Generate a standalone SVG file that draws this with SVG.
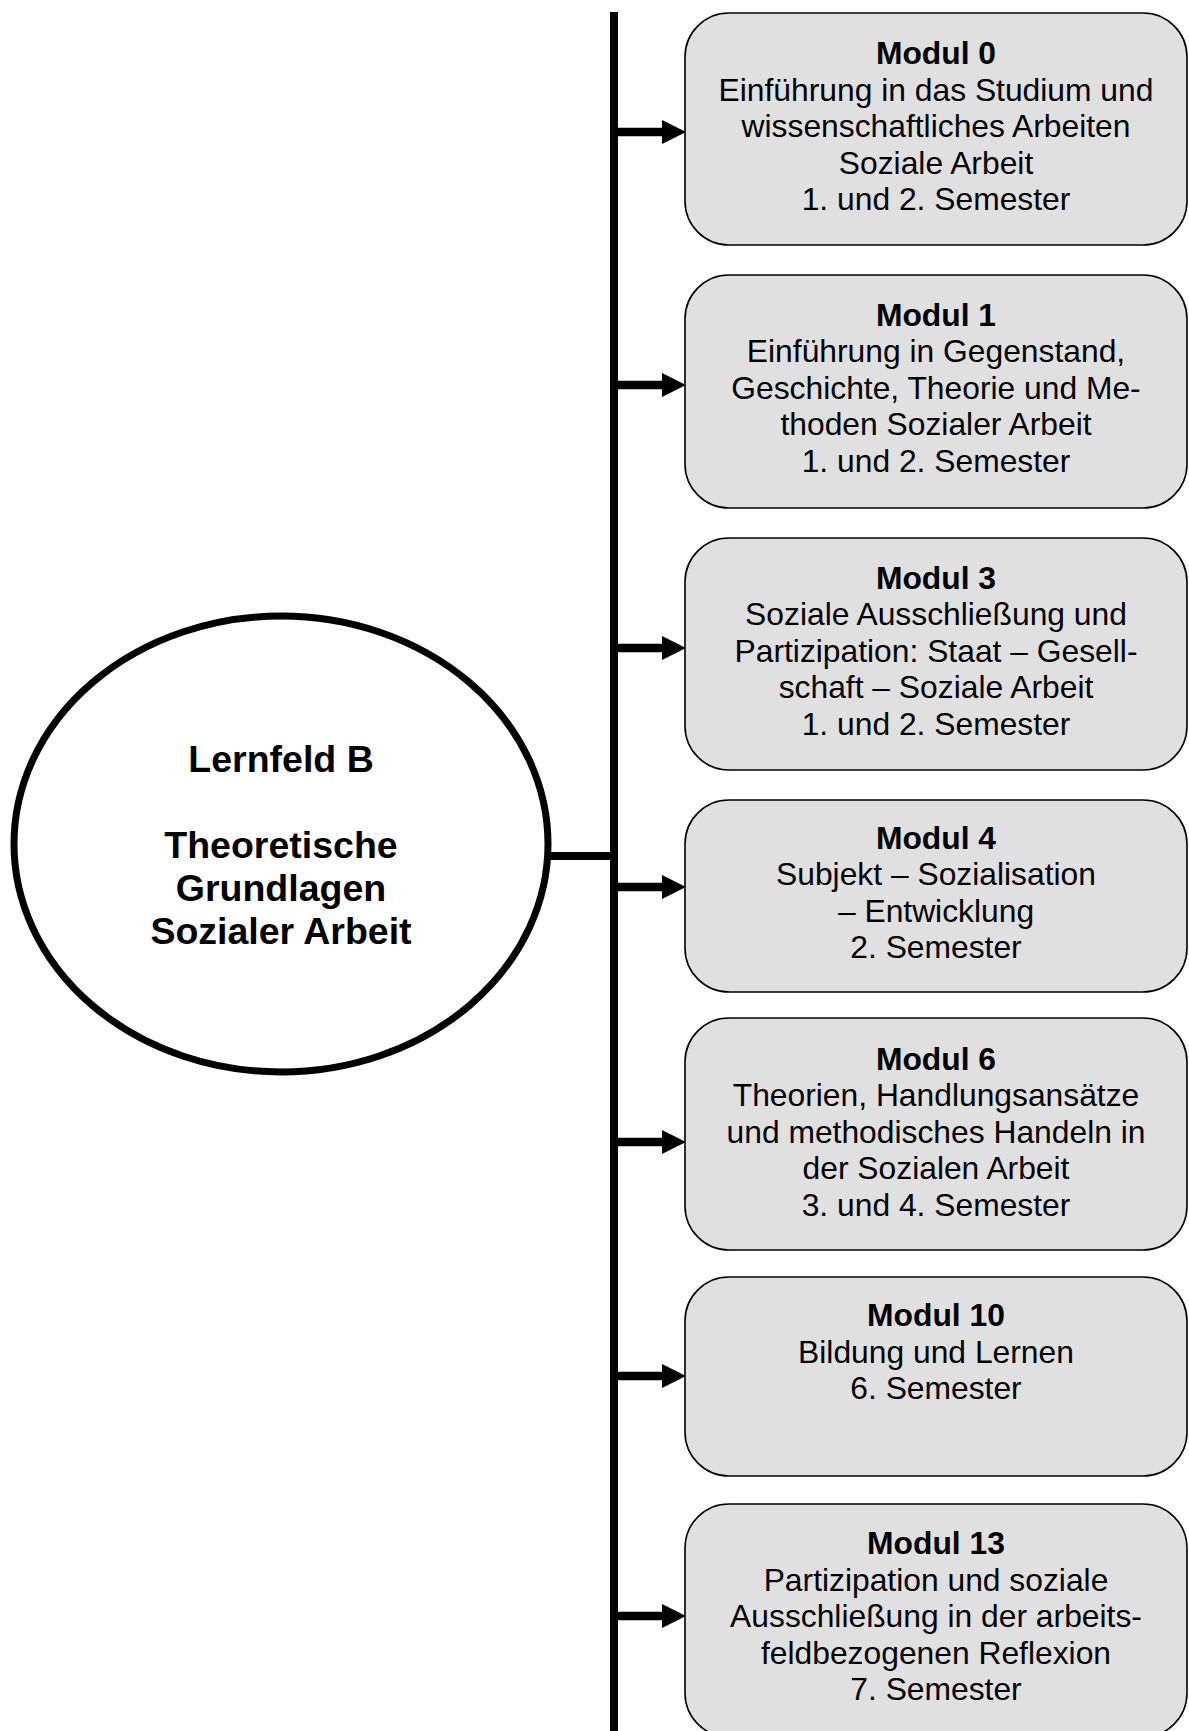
<svg xmlns="http://www.w3.org/2000/svg" width="1189" height="1731" viewBox="0 0 1189 1731">
<style>
.box{fill:#e0e0e0;stroke:#000;stroke-width:1.6}
.t{font-family:"Liberation Sans",Arial,sans-serif;font-size:31.8px;fill:#000;text-anchor:middle}
.b{font-weight:bold}
.et{font-family:"Liberation Sans",Arial,sans-serif;font-size:37.5px;font-weight:bold;fill:#000;text-anchor:middle}
.con{stroke:#000;stroke-width:8;fill:none}
.arr{stroke:#000;stroke-width:8.5;fill:none;marker-end:url(#ah)}
</style>
<defs>
<marker id="ah" markerUnits="userSpaceOnUse" markerWidth="24" markerHeight="24" refX="4" refY="12" orient="auto">
<path d="M0,0 L24,12 L0,24 Z" fill="#000"/>
</marker>
</defs>
<rect width="1189" height="1731" fill="#fff"/>
<g id="connectors">
<line class="con" x1="614" y1="12" x2="614" y2="1731"/>
<line class="con" x1="546" y1="856" x2="614" y2="856"/>
<line class="arr" x1="614" y1="132" x2="666" y2="132"/>
<line class="arr" x1="614" y1="385" x2="666" y2="385"/>
<line class="arr" x1="614" y1="648" x2="666" y2="648"/>
<line class="arr" x1="614" y1="887" x2="666" y2="887"/>
<line class="arr" x1="614" y1="1142" x2="666" y2="1142"/>
<line class="arr" x1="614" y1="1376" x2="666" y2="1376"/>
<line class="arr" x1="614" y1="1616" x2="666" y2="1616"/>
</g>
<g id="lernfeld">
<ellipse cx="281" cy="844" rx="267" ry="228" fill="#fff" stroke="#000" stroke-width="7"/>
<text class="et" x="281" y="772">Lernfeld B</text>
<text class="et" x="281" y="858">Theoretische</text>
<text class="et" x="281" y="901">Grundlagen</text>
<text class="et" x="281" y="944">Sozialer Arbeit</text>
</g>
<g id="modul0">
<rect class="box" x="685" y="13" width="502" height="232" rx="44"/>
<text class="t b" x="936" y="64">Modul 0</text>
<text class="t" x="936" y="100.6">Einführung in das Studium und</text>
<text class="t" x="936" y="137.2">wissenschaftliches Arbeiten</text>
<text class="t" x="936" y="173.8">Soziale Arbeit</text>
<text class="t" x="936" y="210.4">1. und 2. Semester</text>
</g>
<g id="modul1">
<rect class="box" x="685" y="275" width="502" height="233" rx="44"/>
<text class="t b" x="936" y="325.5">Modul 1</text>
<text class="t" x="936" y="362.1">Einführung in Gegenstand,</text>
<text class="t" x="936" y="398.7">Geschichte, Theorie und Me-</text>
<text class="t" x="936" y="435.3">thoden Sozialer Arbeit</text>
<text class="t" x="936" y="471.9">1. und 2. Semester</text>
</g>
<g id="modul3">
<rect class="box" x="685" y="538" width="502" height="232" rx="44"/>
<text class="t b" x="936" y="588.5">Modul 3</text>
<text class="t" x="936" y="625.1">Soziale Ausschließung und</text>
<text class="t" x="936" y="661.7">Partizipation: Staat – Gesell-</text>
<text class="t" x="936" y="698.3">schaft – Soziale Arbeit</text>
<text class="t" x="936" y="734.9">1. und 2. Semester</text>
</g>
<g id="modul4">
<rect class="box" x="685" y="800" width="502" height="192" rx="44"/>
<text class="t b" x="936" y="848.5">Modul 4</text>
<text class="t" x="936" y="885.1">Subjekt – Sozialisation</text>
<text class="t" x="936" y="921.7">– Entwicklung</text>
<text class="t" x="936" y="958.3">2. Semester</text>
</g>
<g id="modul6">
<rect class="box" x="685" y="1018" width="502" height="232" rx="44"/>
<text class="t b" x="936" y="1069.5">Modul 6</text>
<text class="t" x="936" y="1106.1">Theorien, Handlungsansätze</text>
<text class="t" x="936" y="1142.7">und methodisches Handeln in</text>
<text class="t" x="936" y="1179.3">der Sozialen Arbeit</text>
<text class="t" x="936" y="1215.9">3. und 4. Semester</text>
</g>
<g id="modul10">
<rect class="box" x="685" y="1277" width="502" height="199" rx="44"/>
<text class="t b" x="936" y="1326">Modul 10</text>
<text class="t" x="936" y="1362.6">Bildung und Lernen</text>
<text class="t" x="936" y="1399.2">6. Semester</text>
</g>
<g id="modul13">
<rect class="box" x="685" y="1504" width="502" height="233" rx="44"/>
<text class="t b" x="936" y="1554">Modul 13</text>
<text class="t" x="936" y="1590.6">Partizipation und soziale</text>
<text class="t" x="936" y="1627.2">Ausschließung in der arbeits-</text>
<text class="t" x="936" y="1663.8">feldbezogenen Reflexion</text>
<text class="t" x="936" y="1700.4">7. Semester</text>
</g>
</svg>
